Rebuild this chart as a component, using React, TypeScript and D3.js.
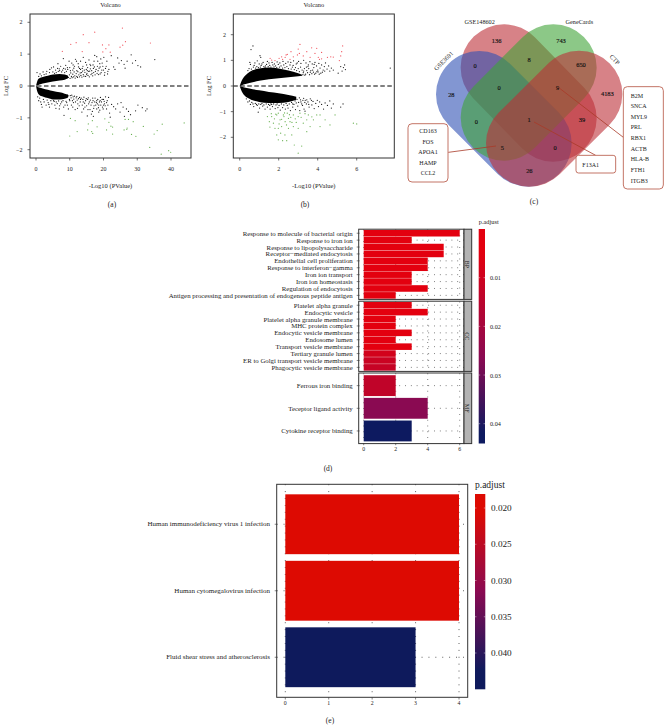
import React from "react";
import * as d3 from "d3";

const FONT = "'Liberation Serif', serif";
const INK = "#333";

// ---------- Volcano (a) ----------
const aRed: number[][] = [[25.6,1.82],[17.4,1.69],[14,1.61],[11.9,1.36],[10.3,1.31],[15.7,1.36],[19.7,1.29],[21.6,1.29],[26.5,1.39],[25.7,1.28],[24.9,1.22],[33.9,1.35],[20.7,1.17],[7.8,1.09],[13.7,1.08],[19.8,1.07],[22,1.06]];
const aGreen: number[][] = [[10.2,-1.02],[11.6,-1.09],[10,-1.57],[12.2,-1.43],[15.5,-1.19],[16.7,-1.09],[15.3,-1.38],[16.5,-1.43],[16.8,-1.49],[18.1,-1.28],[20.4,-1.03],[21.6,-1.14],[20.9,-1.38],[22.2,-1.26],[22.7,-1.29],[22.7,-1.51],[26.1,-1.38],[26.9,-1.36],[27,-1.32],[26.4,-1.05],[27.4,-1.05],[28.8,-1.12],[28.3,-1.52],[29.6,-1.58],[31.8,-1.27],[35.9,-1.4],[35,-1.51],[37.4,-1.2],[43.9,-1.16],[33.7,-1.93],[37.1,-2.14],[39.3,-2.03],[39.9,-2.08]];
const aDenseX = [0, 0.4, 1, 2, 3.5, 5, 7, 8.5, 9.5];
const aDenseTop = [0, 0.16, 0.24, 0.28, 0.32, 0.36, 0.38, 0.36, 0.32];
const aDenseInner = [0, 0.02, 0.05, 0.08, 0.11, 0.14, 0.17, 0.2, 0.24];
const aDenseBottom = [0, -0.18, -0.28, -0.33, -0.38, -0.42, -0.42, -0.4, -0.36];
const aDenseInnerLow = [0, -0.02, -0.05, -0.08, -0.12, -0.16, -0.2, -0.24, -0.27];
const aBlack: number[][] = [[0.3,0.42],[1.2,0.38],[2.1,0.44],[3.2,0.46],[4.1,0.52],[4.6,0.57],[5.2,0.6],[5.8,0.5],[6.4,0.55],[7,0.48],[7.3,0.62],[8.1,0.86],[8.2,0.55],[8.8,0.65],[9.4,0.52],[10,0.58],[10.6,0.72],[10.9,0.5],[11.4,0.62],[11.7,0.84],[12.1,0.48],[12.5,0.7],[12.9,0.55],[13.2,0.78],[13.5,0.42],[13.9,0.62],[14.3,0.5],[14.7,0.74],[15,0.36],[15.3,0.58],[15.7,0.82],[15.9,0.47],[16.2,0.64],[16.6,0.4],[17,0.55],[17.2,0.78],[17.6,0.46],[18,0.92],[18.2,0.62],[18.5,0.36],[18.9,0.7],[19.2,0.85],[19.5,0.5],[19.8,0.62],[20.1,0.9],[20.4,0.42],[20.6,0.55],[21,0.78],[21.3,0.46],[22.3,0.95],[23,0.6],[23.4,0.52],[24.2,0.88],[24.6,0.72],[25.3,0.8],[26.1,0.68],[26.4,0.56],[27,0.78],[28.2,0.98],[28.6,0.72],[29.5,0.8],[30.2,0.64],[31,0.6],[35.2,0.83],[16,0.68],[14,0.9],[12,0.78],[9.8,0.78],[6.5,0.7],[17.4,0.96],[19,0.6],[15,0.66],[13.2,0.52],[11.2,0.56],
[9.6,0.27],[9.9,0.35],[10.1,0.24],[10.3,0.41],[10.5,0.3],[10.7,0.26],[10.9,0.37],[11.1,0.29],[11.3,0.44],[11.5,0.32],[11.6,0.25],[11.9,0.39],[12.1,0.3],[12.3,0.27],[12.4,0.45],[12.7,0.35],[12.9,0.29],[13.1,0.41],[13.3,0.33],[13.6,0.28],[13.8,0.47],[14,0.36],[14.2,0.31],[14.5,0.43],[14.7,0.3],[14.9,0.52],[15.1,0.4],[15.4,0.33],[15.6,0.46],[15.8,0.29],[16.1,0.54],[16.3,0.36],[16.5,0.48],[16.8,0.32],[17.1,0.42],[17.3,0.6],[17.5,0.35],[17.8,0.52],[18.1,0.4],[18.4,0.48],[18.7,0.56],[19,0.38],[19.3,0.42],[19.6,0.72],[20,0.5],[20.3,0.34],[20.8,0.62],[21.2,0.38],[21.6,0.52],[6,0.42],[6.6,0.46],[7.6,0.44],[7.9,0.5],[8.5,0.42],[9,0.46],[9.3,0.58],[5,0.44],[4,0.42],[3,0.38],[2.4,0.36],[1.6,0.32],[0.8,0.3],[5.5,0.4],[6.9,0.54],[8.7,0.53],[10.2,0.48],[11,0.66],[12.6,0.6],[13.7,0.55],[15.2,0.48],[16.9,0.66],[18.3,0.78],
[0.8,-0.46],[1.4,-0.5],[1.8,-0.66],[2.4,-0.5],[3,-0.6],[3.6,-0.52],[4,-0.66],[4.7,-0.56],[5.4,-0.48],[5.9,-0.7],[6.3,-0.55],[7,-0.62],[7.6,-0.5],[8.3,-0.92],[8.6,-0.6],[9.1,-0.52],[9.6,-0.72],[10,-0.46],[10.5,-0.6],[11.1,-0.52],[11.6,-0.74],[12.2,-0.44],[12.8,-0.62],[13.2,-0.42],[13.6,-0.82],[14,-0.5],[14.5,-0.66],[14.9,-0.4],[15.2,-0.94],[15.6,-0.56],[16,-0.74],[16.4,-0.88],[16.9,-0.46],[17.2,-0.62],[17.5,-0.38],[17.9,-0.52],[18,-0.72],[18.3,-0.42],[18.6,-0.6],[18.9,-0.76],[19.1,-0.36],[19.4,-0.5],[19.7,-0.66],[20,-0.42],[20.3,-0.56],[20.6,-0.34],[20.9,-0.72],[21.1,-0.46],[21.5,-0.36],[21.8,-0.85],[22.4,-0.58],[23,-0.65],[23.6,-0.72],[24.2,-0.56],[24.9,-0.82],[25.2,-0.52],[25.8,-0.66],[26.2,-0.95],[26.8,-0.72],[27.4,-0.8],[28,-0.9],[29.5,-0.78],[30.2,-0.6],[31.5,-0.68],[32.5,-0.78],[32.9,-0.72],[22,-0.98],[18.6,-0.82],[17,-0.95],[20,-0.6],[19,-0.46],[15.4,-0.74],
[9.7,-0.31],[9.9,-0.42],[10.2,-0.3],[10.4,-0.37],[10.6,-0.29],[10.8,-0.46],[11,-0.34],[11.2,-0.41],[11.4,-0.32],[11.7,-0.5],[11.9,-0.37],[12.1,-0.33],[12.4,-0.56],[12.6,-0.4],[12.9,-0.36],[13.1,-0.5],[13.4,-0.38],[13.7,-0.6],[13.9,-0.42],[14.2,-0.35],[14.4,-0.54],[14.7,-0.46],[15,-0.62],[15.3,-0.42],[15.5,-0.37],[15.8,-0.5],[16.1,-0.44],[16.3,-0.6],[16.6,-0.52],[16.8,-0.38],[17.1,-0.7],[17.4,-0.5],[17.7,-0.6],[18,-0.46],[18.2,-0.56],[18.5,-0.68],[18.8,-0.5],[19.2,-0.6],[19.6,-0.42],[19.9,-0.72],[20.2,-0.48],[20.5,-0.62],[20.9,-0.52],[21.3,-0.6],[5.2,-0.46],[6,-0.5],[6.7,-0.47],[7.3,-0.56],[8,-0.46],[8.9,-0.48],[9.3,-0.6],[4.4,-0.46],[3.3,-0.44],[2.2,-0.42],[1.1,-0.38],[0.5,-0.34],[1.6,-0.58],[3.8,-0.58],[5.6,-0.6],[6.9,-0.72],[8.2,-0.66],[10.9,-0.66],[12.3,-0.7],[14.1,-0.72],[16.7,-0.8]];

// ---------- Volcano (b) ----------
const bRed: number[][] = [[3.09,1.62],[5.28,1.56],[3,1.44],[3.44,1.34],[3.69,1.49],[3.95,1.47],[4.2,1.31],[2.63,1.34],[2.44,1.23],[2.38,1.21],[2.75,1.14],[2.15,1.14],[2.02,1.08],[1.64,1.01],[1.56,1.08],[1.81,0.99],[2.58,1.04],[2.96,1.21],[3.06,1.27],[3.26,1.17],[3.61,1.12],[3.86,1.27],[4.03,1.12],[4.2,1.06],[4.5,1.12],[4.67,1.14],[4.8,1.13],[5.18,1.17],[5.23,1.34],[5.11,0.99],[4.09,1.04],[2.2,1.04],[2.33,1.12]];
const bGreen: number[][] = [[3,-2.62],[3.18,-2.34],[2.8,-2.3],[1.98,-2.1],[2.2,-2.13],[2.41,-2.13],[2.67,-1.91],[1.9,-1.91],[2.1,-1.84],[2.32,-1.91],[1.81,-1.65],[1.98,-1.65],[2.15,-1.58],[1.52,-1.39],[1.42,-1.19],[1.64,-1.19],[1.9,-1.13],[1.98,-1.06],[2.24,-1.13],[2.44,-1.06],[2.27,-1.19],[2.5,-1.26],[2.58,-1.39],[2.75,-1.13],[3,-1.19],[3.09,-1.06],[3.44,-1.32],[3.52,-1.13],[3.61,-1.58],[3.78,-1.32],[3.95,-1.13],[4.12,-1.13],[4.38,-1.32],[4.12,-1.58],[4.63,-1.52],[4.89,-1.13],[2.75,-1.58],[3,-1.65],[3.26,-1.45],[3.44,-1.78],[2.33,-1.39],[2.5,-1.65],[2.07,-1.32],[1.73,-1.45],[5.83,-1.45],[6,-1.48],[2.9,-1.42],[2.15,-1.3],[2.62,-1.22],[1.62,-1.08],[2.4,-1.52],[1.55,-1.6],[1.78,-1.28],[2.02,-1.48],[2.3,-1.05],[2.55,-1.12],[2.85,-1.28],[3.15,-1.22],[2.68,-1.42],[1.85,-1.1],[3.35,-1.08],[3.7,-1.2]];
const bDenseX = [0, 0.1, 0.3, 0.5, 1, 1.5, 2, 2.5, 3, 3.2];
const bDenseTop = [0, 0.2, 0.42, 0.55, 0.68, 0.72, 0.68, 0.6, 0.5, 0.44];
const bDenseInner = [0, 0.03, 0.08, 0.12, 0.2, 0.26, 0.3, 0.34, 0.38, 0.4];
const bDenseXLow = [0, 0.1, 0.5, 1, 1.5, 2, 2.5, 2.9];
const bDenseBottom = [0, -0.2, -0.5, -0.62, -0.66, -0.66, -0.62, -0.54];
const bDenseInnerLow = [0, -0.03, -0.1, -0.17, -0.23, -0.28, -0.35, -0.42];
const bBlack: number[][] = [[0.68,1.56],[0.58,1.42],[1.04,1.18],[1.08,1.12],[0.52,0.92],[0.55,0.84],[0.78,0.9],[0.9,0.98],[1,0.86],[1.2,0.92],[1.32,0.78],[1.42,0.96],[1.5,0.9],[1.66,0.92],[1.78,0.86],[1.92,0.94],[2.06,0.9],[2.22,0.96],[2.36,0.88],[2.48,0.94],[2.62,0.92],[2.76,0.98],[2.9,0.86],[3.02,0.96],[3.14,0.88],[3.28,1],[3.4,0.9],[3.52,0.82],[3.6,0.95],[3.72,0.86],[3.8,0.72],[3.86,0.92],[3.94,0.78],[4,0.62],[4.06,0.88],[4.12,0.7],[4.2,0.82],[4.28,0.62],[4.34,0.76],[4.4,0.9],[4.48,0.66],[4.56,0.78],[4.62,0.58],[4.7,0.7],[4.8,0.62],[3.65,0.6],[3.78,0.54],[3.9,0.5],[4.02,0.55],[4.16,0.5],[5.05,0.5],[5.18,0.76],[5.25,0.58],[5.32,0.72],[5.42,0.64],[5.38,0.82],[7.72,0.7],[3.82,0.84],[3.5,0.76],[2.95,0.9],[1.1,0.8],[0.7,0.74],
[0.42,0.6],[0.48,0.68],[0.6,0.66],[0.66,0.58],[0.74,0.8],[0.82,0.7],[0.88,0.76],[0.96,0.72],[1.06,0.74],[1.14,0.86],[1.24,0.76],[1.3,0.72],[1.38,0.84],[1.46,0.76],[1.54,0.8],[1.6,0.74],[1.7,0.82],[1.76,0.75],[1.84,0.78],[1.9,0.72],[1.98,0.84],[2.04,0.74],[2.12,0.78],[2.2,0.7],[2.26,0.82],[2.32,0.72],[2.42,0.76],[2.5,0.68],[2.58,0.82],[2.64,0.66],[2.7,0.74],[2.8,0.64],[2.86,0.72],[2.92,0.6],[3,0.68],[3.06,0.56],[3.12,0.74],[3.2,0.62],[3.26,0.52],[3.32,0.68],[3.38,0.46],[3.44,0.6],[3.48,0.52],[3.54,0.68],[3.58,0.44],[3.62,0.54],[3.7,0.48],[3.74,0.62],[3.84,0.46],[3.96,0.56],[4.08,0.46],[4.24,0.54],[4.36,0.58],[3.24,0.44],[3.34,0.42],[3.28,0.58],[3.42,0.74],[2.74,0.8],
[0.34,-0.5],[0.42,-0.62],[0.55,-0.72],[0.72,-0.8],[0.9,-0.76],[1.02,-0.86],[1.18,-0.78],[1.3,-0.9],[1.42,-0.82],[1.56,-0.9],[1.68,-0.8],[1.82,-0.88],[1.96,-0.84],[2.08,-0.94],[2.2,-0.84],[2.34,-0.9],[2.48,-0.86],[2.6,-0.96],[2.72,-0.82],[2.86,-0.92],[2.98,-0.78],[3.08,-0.96],[3.14,-0.62],[3.22,-0.76],[3.3,-0.9],[3.36,-0.56],[3.42,-0.7],[3.5,-0.62],[3.56,-0.82],[3.62,-0.5],[3.7,-0.74],[3.76,-0.6],[3.82,-0.88],[3.9,-0.68],[3.98,-0.56],[4.04,-0.8],[4.1,-0.62],[4.2,-0.72],[4.3,-0.9],[4.38,-0.66],[4.5,-0.76],[4.62,-0.58],[4.7,-0.86],[4.8,-0.7],[5.18,-0.82],[5.3,-0.7],[3.35,-0.98],[2.9,-0.66],[3.28,-0.48],[0.95,-1.02],[1.6,-0.7],[2.72,-0.7],
[0.5,-0.58],[0.62,-0.64],[0.68,-0.7],[0.8,-0.68],[0.86,-0.72],[0.98,-0.7],[1.08,-0.72],[1.14,-0.68],[1.24,-0.74],[1.36,-0.7],[1.48,-0.72],[1.54,-0.76],[1.64,-0.72],[1.74,-0.7],[1.86,-0.74],[1.92,-0.7],[2.02,-0.76],[2.14,-0.7],[2.26,-0.74],[2.38,-0.68],[2.44,-0.76],[2.54,-0.7],[2.66,-0.64],[2.78,-0.72],[2.84,-0.58],[2.94,-0.52],[3.02,-0.64],[3.06,-0.46],[3.12,-0.54],[3.18,-0.7],[3.24,-0.56],[3.34,-0.64],[3.44,-0.54],[3.54,-0.72],[3.68,-0.56]];

// ---------- Venn (c) ----------
const vennSets = ["GSE148602", "GSE3691", "GeneCards", "CTP"];
const vennCounts = [136, 743, 0, 8, 650, 28, 0, 9, 4183, 0, 1, 39, 5, 0, 26];
const genesRight = ["B2M", "SNCA", "MYL9", "PRL", "RBX1", "ACTB", "HLA-B", "FTH1", "ITGB3"];
const genesLeft = ["CD163", "FOS", "APOA1", "HAMP", "CCL2"];
const geneCenter = ["F13A1"];

// ---------- Enrichment (d) ----------
const bpTerms = ["Response to molecule of bacterial origin","Response to iron ion","Response to lipopolysaccharide","Receptor\u2212mediated endocytosis","Endothelial cell proliferation","Response to interferon\u2212gamma","Iron ion transport","Iron ion homeostasis","Regulation of endocytosis","Antigen processing and presentation of endogenous peptide antigen"];
const bpCounts = [6, 3, 5, 5, 4, 4, 3, 3, 4, 2];
const bpP = [0.004, 0.004, 0.004, 0.004, 0.004, 0.004, 0.004, 0.004, 0.0045, 0.005];
const ccTerms = ["Platelet alpha granule","Endocytic vesicle","Platelet alpha granule membrane","MHC protein complex","Endocytic vesicle membrane","Endosome lumen","Transport vesicle membrane","Tertiary granule lumen","ER to Golgi transport vesicle membrane","Phagocytic vesicle membrane"];
const ccCounts = [3, 4, 2, 2, 3, 2, 3, 2, 2, 2];
const ccP = [0.004, 0.004, 0.004, 0.004, 0.004, 0.005, 0.005, 0.009, 0.011, 0.012];
const mfTerms = ["Ferrous iron binding","Teceptor ligand activity","Cytokine receptor binding"];
const mfCounts = [2, 4, 3];
const mfP = [0.0135, 0.0265, 0.0435];
const dCountTicks = [0, 2, 4, 6];
const dPTicks = [0.01, 0.02, 0.03, 0.04];

// ---------- KEGG (e) ----------
const keggTerms = ["Human immunodeficiency virus 1 infection","Human cytomegalovirus infection","Fluid shear stress and atherosclerosis"];
const keggCounts = [4, 4, 3];
const keggP = [0.0185, 0.0185, 0.043];
const eCountTicks = [0, 1, 2, 3, 4];
const ePTicks = [0.02, 0.025, 0.03, 0.035, 0.04];

const txt = (x: number, y: number, s: any, size: number, anchor = "middle", extra: any = {}) => (
  <text x={x} y={y} fontSize={size} textAnchor={anchor} fontFamily={FONT} fill="#222" dominantBaseline="central" {...extra}>{s}</text>
);

function Volcano({ frame, xDomain, xRange, yDomain, yRange, xTicks, yTicks, dense, black, red, green, tickEnd, ylabX }: any) {
  const x = d3.scaleLinear().domain(xDomain).range(xRange);
  const y = d3.scaleLinear().domain(yDomain).range(yRange);
  const [fx0, fy0, fx1, fy1] = frame;
  const band = d3.area<number[]>().x((d) => x(d[0])).y0((d) => y(d[1])).y1((d) => y(d[2])).curve(d3.curveMonotoneX);
  const cx = (fx0 + fx1) / 2;
  return (
    <g>
      {txt(cx, 4, "Volcano", 6.3)}
      {dense.map((b: number[][], i: number) => <path key={i} d={band(b) as string} fill="#000" />)}
      {black.map((p: number[], i: number) => <circle key={i} cx={x(p[0])} cy={y(p[1])} r={0.62} fill="#1a1a1a" />)}
      {red.map((p: number[], i: number) => <circle key={i} cx={x(p[0])} cy={y(p[1])} r={0.62} fill="#f0505a" />)}
      {green.map((p: number[], i: number) => <circle key={i} cx={x(p[0])} cy={y(p[1])} r={0.62} fill="#68b050" />)}
      <line x1={fx0} x2={fx1} y1={y(0)} y2={y(0)} stroke="#000" strokeWidth={1} strokeDasharray="4.5 2.5" />
      <rect x={fx0} y={fy0} width={fx1 - fx0} height={fy1 - fy0} fill="none" stroke={INK} strokeWidth={1} />
      {xTicks.map((t: number) => (
        <g key={t}>
          <line x1={x(t)} x2={x(t)} y1={fy1} y2={fy1 + 2.5} stroke={INK} strokeWidth={0.7} />
          {txt(x(t), 169, t, 6)}
        </g>
      ))}
      {yTicks.map((t: number) => (
        <g key={t}>
          <line x1={fx0 - 2.5} x2={fx0} y1={y(t)} y2={y(t)} stroke={INK} strokeWidth={0.7} />
          {txt(tickEnd, y(t), t < 0 ? "\u2212" + -t : t, 6, "end")}
        </g>
      ))}
      {txt(cx, 185, "-Log10 (PValue)", 6.5)}
      {txt(ylabX, 86, "Log FC", 6.5, "middle", { transform: `rotate(-90 ${ylabX} 86)` })}
    </g>
  );
}

function Venn() {
  const ox = 430, k = 1 / 3;
  const X = (v: number) => ox + v * k;
  const Y = (v: number) => v * k;
  const pills = [
    { a: [222, 203], b: [370, 355], c: "rgb(188,47,55)" },
    { a: [148, 283], b: [295, 430], c: "rgb(47,80,180)" },
    { a: [370, 203], b: [222, 352], c: "rgb(63,163,55)" },
    { a: [447, 282], b: [298, 430], c: "rgb(188,47,55)" },
  ];
  const countPos = [[200,122],[393,120],[135,196],[297,179],[453,193],[64,283],[207,262],[383,262],[532,281],[139,365],[297,358],[456,358],[217,442],[375,442],[298,512]];
  const rightY = [287, 319, 351, 382, 414, 446, 478, 510, 542];
  const leftY = [131, 142, 152, 163, 173];
  const boxC = "#b4503f";
  return (
    <g>
      {pills.map((p, i) => (
        <line key={i} x1={X(p.a[0])} y1={Y(p.a[1])} x2={X(p.b[0])} y2={Y(p.b[1])} stroke={p.c} strokeOpacity={0.6} strokeWidth={260 * k} strokeLinecap="round" />
      ))}
      {vennCounts.map((c, i) => (
        <g key={i}>{txt(X(countPos[i][0]), Y(countPos[i][1]), c, 6.4, "middle", { fill: "#111", stroke: "#111", strokeWidth: 0.15 })}</g>
      ))}
      {txt(X(149), Y(64), vennSets[0], 6.2)}
      {txt(X(448), Y(64), vennSets[2], 6.2)}
      {txt(X(40), Y(182), vennSets[1], 6.2, "middle", { transform: `rotate(-45 ${X(40)} ${Y(182)})` })}
      {txt(X(555), Y(178), vennSets[3], 6.2, "middle", { transform: `rotate(45 ${X(555)} ${Y(178)})` })}
      <line x1={X(385)} y1={Y(262)} x2={X(580)} y2={Y(412)} stroke="#a83a28" strokeWidth={0.8} />
      <line x1={X(312)} y1={Y(366)} x2={X(497)} y2={Y(466)} stroke="#a83a28" strokeWidth={0.8} />
      <line x1={X(55)} y1={Y(457)} x2={X(198)} y2={Y(438)} stroke="#a83a28" strokeWidth={0.8} />
      <rect x={X(580)} y={Y(260)} width={120 * k} height={307 * k} rx={4} fill="#fff" stroke={boxC} strokeWidth={0.8} />
      {genesRight.map((g, i) => <g key={g}>{txt(X(602), Y(rightY[i]), g, 6, "start")}</g>)}
      <rect x={X(438)} y={Y(466)} width={119 * k} height={53 * k} rx={2.5} fill="#fff" stroke={boxC} strokeWidth={0.8} />
      {txt(X(457), Y(496), geneCenter[0], 6, "start")}
      <rect x={408} y={123.7} width={40} height={58.3} rx={4} fill="#fff" stroke={boxC} strokeWidth={0.8} />
      {genesLeft.map((g, i) => <g key={g}>{txt(428, leftY[i], g, 6)}</g>)}
    </g>
  );
}

const dColor = d3.scaleLinear<string>().domain([0.005, 0.0265, 0.042]).range(["#e3000f", "#8a0a52", "#0d1a60"]).clamp(true);
const eColor = d3.scaleLinear<string>().domain([0.0205, 0.0315, 0.0425]).range(["#dd0a02", "#8a0a52", "#0e1a5c"]).clamp(true);

function BarPanel({ terms, counts, ps, x, top, bottom, left, right, strip, stripX1, labelEnd, labelSize, color, padding, stripLabel, dot }: any) {
  const y = d3.scaleBand<string>().domain(terms).range([top, bottom]).padding(padding);
  return (
    <g>
      {x.ticks(dot).map((t: number) => (
        <line key={t} x1={x(t)} x2={x(t)} y1={top} y2={bottom} stroke="#222" strokeWidth={0.7} strokeDasharray="0.8 5" />
      ))}
      {terms.map((t: string) => (
        <line key={t} x1={left} x2={right} y1={y(t)! + y.bandwidth() / 2} y2={y(t)! + y.bandwidth() / 2} stroke="#222" strokeWidth={0.7} strokeDasharray="0.8 5" />
      ))}
      {terms.map((t: string, i: number) => (
        <g key={t}>
          <rect x={x(0)} y={y(t)} width={x(counts[i]) - x(0)} height={y.bandwidth()} fill={color(ps[i])} />
          <line x1={left - 2} x2={left} y1={y(t)! + y.bandwidth() / 2} y2={y(t)! + y.bandwidth() / 2} stroke={INK} strokeWidth={0.6} />
          {txt(labelEnd, y(t)! + y.bandwidth() / 2, t, labelSize, "end")}
        </g>
      ))}
      <rect x={left} y={top - 0.4} width={right - left} height={bottom - top + 0.8} fill="none" stroke={INK} strokeWidth={1} />
      {strip && <rect x={right} y={top - 0.4} width={stripX1 - right} height={bottom - top + 0.8} fill="#b3b3b3" stroke={INK} strokeWidth={1} />}
      {strip && txt((right + stripX1) / 2, (top + bottom) / 2, stripLabel, 6.2, "middle", { transform: `rotate(90 ${(right + stripX1) / 2} ${(top + bottom) / 2})` })}
    </g>
  );
}

function ColorBar({ x0, x1, y, color, ticks, id, top, bottom, label, labelSize, tickSize, fmt, textX, labelY }: any) {
  const stops = d3.range(0, 1.0001, 0.05).map((t) => ({ t, c: color(y.invert(top + t * (bottom - top))) }));
  return (
    <g>
      <defs>
        <linearGradient id={id} x1="0" x2="0" y1="0" y2="1">
          {stops.map((s) => <stop key={s.t} offset={s.t} stopColor={s.c} />)}
        </linearGradient>
      </defs>
      <rect x={x0} y={top} width={x1 - x0} height={bottom - top} fill={`url(#${id})`} />
      {ticks.map((t: number) => (
        <g key={t}>
          <line x1={x0} x2={x0 + 1.5} y1={y(t)} y2={y(t)} stroke="#fff" strokeOpacity={0.7} strokeWidth={0.6} />
          <line x1={x1 - 1.5} x2={x1} y1={y(t)} y2={y(t)} stroke="#fff" strokeOpacity={0.7} strokeWidth={0.6} />
          {txt(textX, y(t), fmt(t), tickSize, "start")}
        </g>
      ))}
      {txt(x0, labelY, label, labelSize, "start")}
    </g>
  );
}

function PanelD() {
  const left = 358.7, right = 464;
  const x = d3.scaleLinear().domain([0, 6]).range([363.7, 459.7]);
  const p = d3.scaleLinear().domain([0.01, 0.04]).range([277.7, 423.7]);
  const common = { x, left, right, labelEnd: 352.7, labelSize: 6.8, color: dColor, strip: true, stripX1: 471.7, dot: 3 };
  return (
    <g>
      <BarPanel {...common} terms={bpTerms} counts={bpCounts} ps={bpP} top={229.6} bottom={299} padding={0.05} stripLabel="BP" />
      <BarPanel {...common} terms={ccTerms} counts={ccCounts} ps={ccP} top={301.6} bottom={371} padding={0.05} stripLabel="CC" />
      <BarPanel {...common} terms={mfTerms} counts={mfCounts} ps={mfP} top={373.4} bottom={443.2} padding={0.08} stripLabel="MF" />
      {dCountTicks.map((t) => (
        <g key={t}>
          <line x1={x(t)} x2={x(t)} y1={443.2} y2={445.2} stroke={INK} strokeWidth={0.6} />
          {txt(x(t), 449, t, 5.8)}
        </g>
      ))}
      <ColorBar x0={478.7} x1={485} y={p} color={dColor} ticks={dPTicks} id="gd" top={229} bottom={443.5} label="p.adjust" labelSize={6.4} tickSize={6.2} fmt={(t: number) => d3.format(".2f")(t)} textX={490} labelY={221.5} />
    </g>
  );
}

function PanelE() {
  const left = 276.7, right = 467.7, top = 484.3, bottom = 697.3;
  const x = d3.scaleLinear().domain([0, 4]).range([285.3, 459]);
  const y = d3.scaleBand<string>().domain(keggTerms).range([491, 690.5]).paddingInner(0.1).paddingOuter(0.05);
  const p = d3.scaleLinear().domain([0.02, 0.04]).range([508, 653]);
  return (
    <g>
      {eCountTicks.map((t) => (
        <g key={t}>
          <line x1={x(t)} x2={x(t)} y1={top} y2={bottom} stroke="#222" strokeWidth={0.8} strokeDasharray="0.9 6" />
          <line x1={x(t)} x2={x(t)} y1={bottom} y2={bottom + 2.2} stroke={INK} strokeWidth={0.6} />
          {txt(x(t), 702.5, t, 5.8)}
        </g>
      ))}
      {keggTerms.map((t, i) => {
        const cy = y(t)! + y.bandwidth() / 2;
        return (
          <g key={t}>
            <line x1={left} x2={right} y1={cy} y2={cy} stroke="#222" strokeWidth={0.8} strokeDasharray="0.9 6" />
            <rect x={x(0)} y={y(t)} width={x(keggCounts[i]) - x(0)} height={y.bandwidth()} fill={eColor(keggP[i])} />
            <line x1={left - 2} x2={left} y1={cy} y2={cy} stroke={INK} strokeWidth={0.6} />
            {txt(270, cy, t, 7, "end")}
          </g>
        );
      })}
      <rect x={left} y={top} width={right - left} height={bottom - top} fill="none" stroke={INK} strokeWidth={1} />
      <ColorBar x0={475} x1={485.3} y={p} color={eColor} ticks={ePTicks} id="ge" top={494} bottom={689.3} label="p.adjust" labelSize={9.5} tickSize={9.2} fmt={(t: number) => d3.format(".3f")(t)} textX={491} labelY={485} />
    </g>
  );
}

export default function App() {
  const zip = (xs: number[], a: number[], b: number[]) => xs.map((v, i) => [v, a[i], b[i]]);
  return (
    <svg width={664} height={725} viewBox="0 0 664 725" style={{ position: "absolute", left: 0, top: 0, background: "#fff" }}>
      <Volcano frame={[30, 14, 191, 158]} xDomain={[0, 40]} xRange={[36, 171]} yDomain={[-2, 2]} yRange={[149.7, 22.3]} xTicks={[0, 10, 20, 30, 40]} yTicks={[-2, -1, 0, 1, 2]}
        dense={[zip(aDenseX, aDenseTop, aDenseInner), zip(aDenseX, aDenseBottom, aDenseInnerLow)]} black={aBlack} red={aRed} green={aGreen} tickEnd={22.5} ylabX={5} />
      <Volcano frame={[233.3, 14, 394.3, 158]} xDomain={[0, 6]} xRange={[239.7, 356.7]} yDomain={[-2, 2]} yRange={[137.3, 34.7]} xTicks={[0, 2, 4, 6]} yTicks={[-2, -1, 0, 1, 2]}
        dense={[zip(bDenseX, bDenseTop, bDenseInner), zip(bDenseXLow, bDenseBottom, bDenseInnerLow)]} black={bBlack} red={bRed} green={bGreen} tickEnd={226} ylabX={208} />
      <Venn />
      <PanelD />
      <PanelE />
      {txt(112, 204, "(a)", 7.5)}
      {txt(305, 204, "(b)", 7.5)}
      {txt(534, 201, "(c)", 7.5)}
      {txt(328, 468, "(d)", 7.5)}
      {txt(330, 720, "(e)", 7.5)}
    </svg>
  );
}
